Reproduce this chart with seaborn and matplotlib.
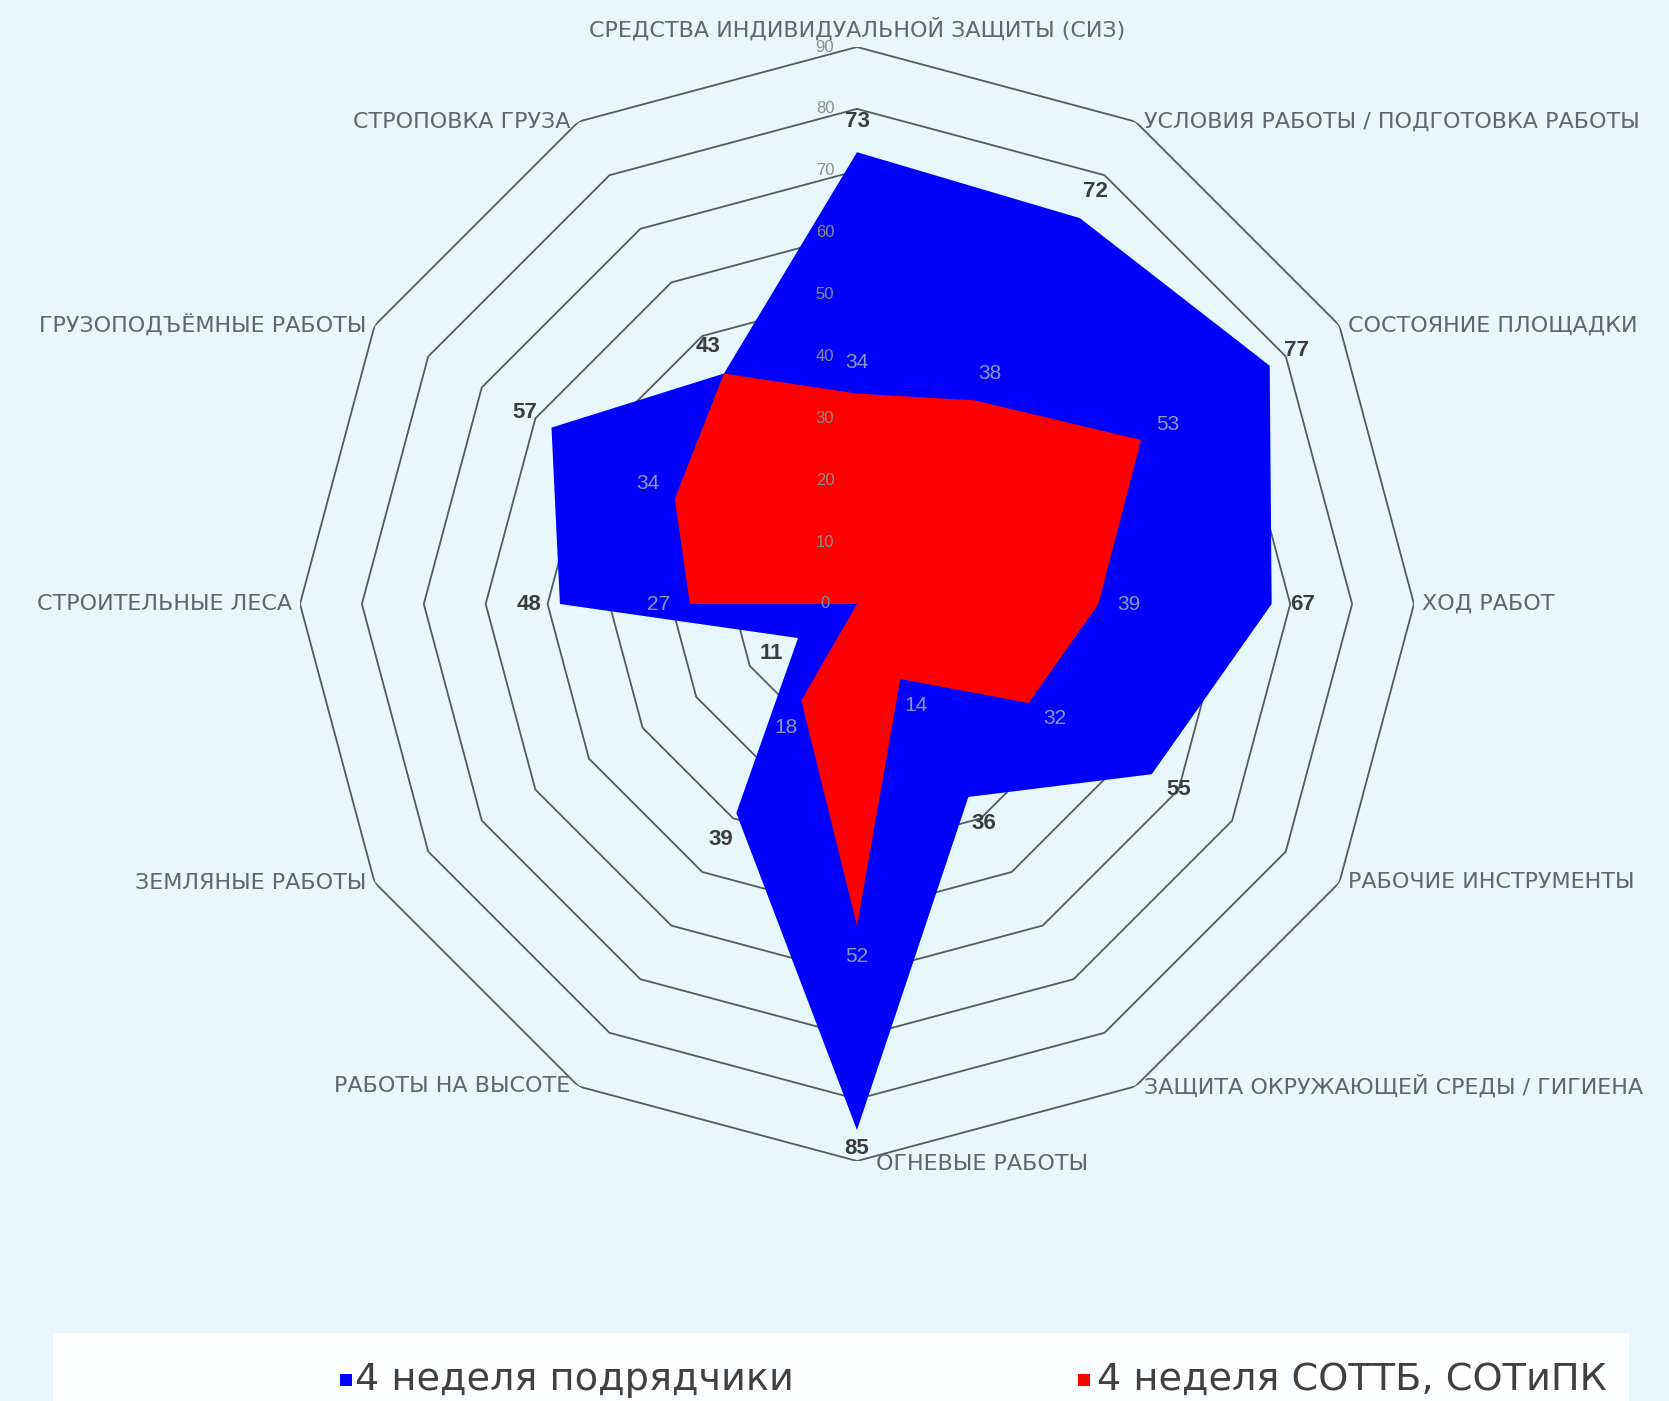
import numpy as np
import pandas as pd
import matplotlib
matplotlib.use("Agg")
import matplotlib.pyplot as plt
import seaborn as sns
from matplotlib.patches import Rectangle

# ---------------- data ----------------
categories = [
    "СРЕДСТВА ИНДИВИДУАЛЬНОЙ ЗАЩИТЫ (СИЗ)",
    "УСЛОВИЯ РАБОТЫ / ПОДГОТОВКА РАБОТЫ",
    "СОСТОЯНИЕ ПЛОЩАДКИ",
    "ХОД РАБОТ",
    "РАБОЧИЕ ИНСТРУМЕНТЫ",
    "ЗАЩИТА ОКРУЖАЮЩЕЙ СРЕДЫ / ГИГИЕНА",
    "ОГНЕВЫЕ РАБОТЫ",
    "РАБОТЫ НА ВЫСОТЕ",
    "ЗЕМЛЯНЫЕ РАБОТЫ",
    "СТРОИТЕЛЬНЫЕ ЛЕСА",
    "ГРУЗОПОДЪЁМНЫЕ РАБОТЫ",
    "СТРОПОВКА ГРУЗА",
]
contractors = [73, 72, 77, 67, 55, 36, 85, 39, 11, 48, 57, 43]
sottb = [34, 38, 53, 39, 32, 14, 52, 18, 0, 27, 34, 43]
ring_values = [10, 20, 30, 40, 50, 60, 70, 80, 90]
tick_labels = ["0", "10", "20", "30", "40", "50", "60", "70", "80", "90"]
series_names = ["4 неделя подрядчики", "4 неделя СОТТБ, СОТиПК"]

# ---------------- style ----------------
sns.set_theme(style="white")
plt.rcParams["font.family"] = ["Liberation Sans", "DejaVu Sans"]

BG = "#E6F8FD"
BLUE = "#0000FF"
RED = "#FF0000"
GRID = "#555a5d"
CAT_COLOR = "#5f676c"

W, H = 1669, 1401
fig = plt.figure(figsize=(W / 100, H / 100), dpi=100, facecolor=BG)

cx, cy, R = 857, 604, 557
ax = fig.add_axes([(cx - R) / W, (H - cy - R) / H, 2 * R / W, 2 * R / H],
                  projection="polar")
ax.set_theta_zero_location("N")
ax.set_theta_direction(-1)
ax.patch.set_alpha(0)

n = len(categories)
theta = np.arange(n) * 2 * np.pi / n
theta_c = np.append(theta, theta[0])

# polygon rings
ring_df = pd.DataFrame({
    "theta": np.tile(theta_c, len(ring_values)),
    "r": np.repeat(ring_values, n + 1),
    "ring": np.repeat(ring_values, n + 1),
})
sns.lineplot(data=ring_df, x="theta", y="r", units="ring", estimator=None,
             sort=False, color=GRID, lw=1.3, ax=ax, zorder=1)

# filled series
ax.fill(theta_c, np.append(contractors, contractors[0]), color=BLUE, lw=0, zorder=2)
ax.fill(theta_c, np.append(sottb, sottb[0]), color=RED, lw=0, zorder=3)

ax.set_ylim(0, 90)
ax.grid(False)
ax.spines["polar"].set_visible(False)
ax.set_xticks([])
ax.set_yticks([])
ax.set_xlabel("")
ax.set_ylabel("")

# radial tick labels along the top axis
for i, t in enumerate(tick_labels):
    ax.annotate(t, xy=(0, i * 10), xytext=(-23, 0), textcoords="offset points",
                ha="center", va="center", fontsize=12, color="#8c8c8c", zorder=6)

# data labels
for th, v in zip(theta, sottb):
    if v == 0:
        continue
    ax.text(th, v + 5, str(v), ha="center", va="center", fontsize=15,
            color="#8a98c4", zorder=7)
for th, v in zip(theta, contractors):
    r_lab = v + 3 if v > 80 else v + 5
    ax.text(th, r_lab, str(v), ha="center", va="center", fontsize=16,
            fontweight="bold", color="#3c3c3c", zorder=8)

# category labels
for k, (th, lab) in enumerate(zip(theta, categories)):
    deg = k * 30
    if deg == 0:
        ha, off = "center", (0, 13)
    elif deg == 180:
        ha, off = "left", (14, -2)
    elif deg < 180:
        ha, off = "left", (6, 0)
    else:
        ha, off = "right", (-6, 0)
    ax.annotate(lab, xy=(th, 90), xytext=off, textcoords="offset points",
                ha=ha, va="center", fontsize=16, color=CAT_COLOR, zorder=5,
                family="DejaVu Sans", annotation_clip=False)

# legend box
fig.patches.append(Rectangle((53 / W, 0), (1629 - 53) / W, (H - 1333) / H,
                             transform=fig.transFigure, facecolor="#FCFEFF",
                             edgecolor="none", zorder=0))
leg_y = (H - 1380) / H
for sx, tx, col, name in [(346, 355, BLUE, series_names[0]),
                          (1084, 1097, RED, series_names[1])]:
    fig.patches.append(Rectangle(((sx - 6) / W, leg_y - 6 / H), 12 / W, 12 / H,
                                 transform=fig.transFigure, facecolor=col,
                                 edgecolor="none", zorder=2))
    fig.text(tx / W, leg_y, name, ha="left", va="center", fontsize=27.5,
             color="#404040", family="DejaVu Sans")

fig.savefig("out.png", dpi=100, facecolor=BG)
